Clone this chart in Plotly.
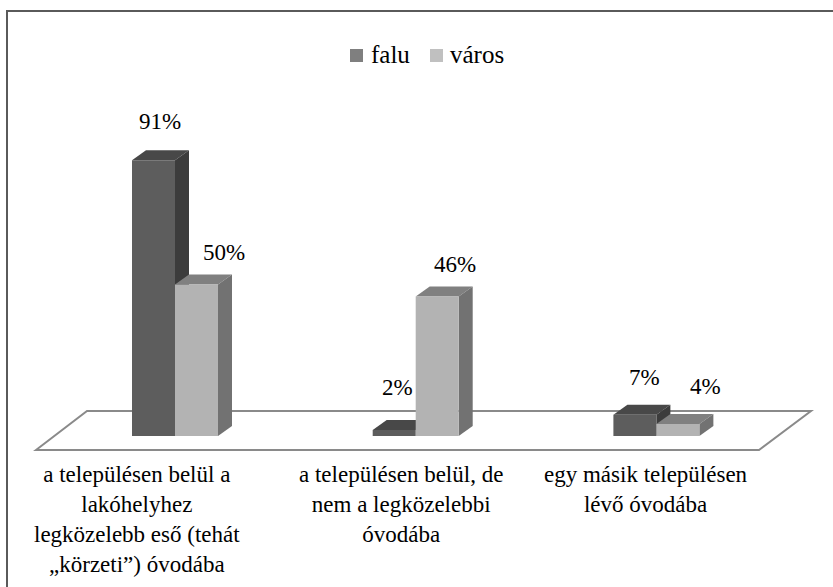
import plotly.graph_objects as go

# ---------------- data ----------------
categories = [
    "a településen belül a<br>lakóhelyhez<br>legközelebb eső (tehát<br>„körzeti”) óvodába",
    "a településen belül, de<br>nem a legközelebbi<br>óvodába",
    "egy másik településen<br>lévő óvodába",
]
series_names = ["falu", "város"]
falu = [91, 2, 7]
varos = [50, 46, 4]

# ---------------- styling / layout ----------------
W, H = 833, 587
X0PX, XSTEP = 175.0, 240.7      # pixel of category 0 centre, pixels per category
Y0PX, YSCALE = 436.0, 3.03      # pixel of 0 %, pixels per %
BAR_W = 43 / XSTEP
DX = 14 / XSTEP                 # 3-D depth (x)
DY = 10 / YSCALE                # 3-D depth (y)

front_colors = ["#5d5d5d", "#b3b3b3"]
top_colors = ["#484848", "#808080"]
side_colors = ["#3c3c3c", "#727272"]
legend_colors = ["#7f7f7f", "#c0c0c0"]

label_xshift = [[-1, 20], [-4, 11], [3, 21]]
label_yshift = [[29, 22], [32, 22], [27, 27]]
cat_label_dx = [-0.158, -0.06, -0.045]

FONT = "Liberation Serif"

idx = list(range(len(categories)))
series = [falu, varos]

fig = go.Figure()
shapes = []
annotations = []

# floor (perspective plane)
fx_top = [(87 - X0PX) / XSTEP, (811 - X0PX) / XSTEP]
fx_bot = [(36 - X0PX) / XSTEP, (759 - X0PX) / XSTEP]
fy_top = (Y0PX - 411) / YSCALE
fy_bot = (Y0PX - 450) / YSCALE
shapes.append(dict(
    type="path", xref="x", yref="y", layer="below",
    path=f"M {fx_bot[0]},{fy_bot} L {fx_top[0]},{fy_top} L {fx_top[1]},{fy_top} L {fx_bot[1]},{fy_bot} Z",
    fillcolor="white", line=dict(color="#8a8a8a", width=2),
))

# front faces as bars, top & side faces as shapes below them
for s, vals in enumerate(series):
    fig.add_trace(go.Bar(
        x=idx, y=vals, width=BAR_W, offset=(s - 1) * BAR_W,
        marker=dict(color=front_colors[s], line=dict(width=0)),
        name=series_names[s], showlegend=False, hoverinfo="skip",
    ))

for i in idx:
    for s, vals in enumerate(series):
        v = vals[i]
        x0 = i + (s - 1) * BAR_W
        x1 = x0 + BAR_W
        shapes.append(dict(
            type="path", xref="x", yref="y", layer="below",
            path=f"M {x0},{v} L {x1},{v} L {x1+DX},{v+DY} L {x0+DX},{v+DY} Z",
            fillcolor=top_colors[s], line=dict(width=0),
        ))
        shapes.append(dict(
            type="path", xref="x", yref="y", layer="below",
            path=f"M {x1},0 L {x1},{v} L {x1+DX},{v+DY} L {x1+DX},{DY} Z",
            fillcolor=side_colors[s], line=dict(width=0),
        ))
        annotations.append(dict(
            x=x0 + BAR_W / 2 + DX / 2, y=v + DY, xref="x", yref="y",
            text=f"{v}%", showarrow=False, yanchor="middle", xanchor="center",
            xshift=label_xshift[i][s], yshift=label_yshift[i][s],
            font=dict(family=FONT, size=23, color="black"),
        ))

# category labels
for i, cat in enumerate(categories):
    annotations.append(dict(
        x=i + cat_label_dx[i], y=(Y0PX - 460) / YSCALE, xref="x", yref="y",
        text=cat, showarrow=False, xanchor="center", yanchor="top", align="center",
        font=dict(family=FONT, size=23, color="black"),
    ))

# legend (manual)
def px(x):
    return x / W

def py(y):
    return 1 - y / H

legend_sw = [350, 430]
legend_tx = [369, 448]
for s in range(2):
    shapes.append(dict(
        type="rect", xref="paper", yref="paper",
        x0=px(legend_sw[s]), x1=px(legend_sw[s] + 13), y0=py(62), y1=py(49),
        fillcolor=legend_colors[s], line=dict(width=0),
    ))
    annotations.append(dict(
        x=px(legend_tx[s]), y=py(55), xref="paper", yref="paper",
        text=series_names[s], showarrow=False, xanchor="left", yanchor="middle",
        font=dict(family=FONT, size=25, color="black"),
    ))

# outer border
shapes.append(dict(
    type="rect", xref="paper", yref="paper",
    x0=px(7), y0=-0.05, x1=1.05, y1=py(11),
    line=dict(color="#5a5a5a", width=2), fillcolor="rgba(0,0,0,0)",
))

fig.update_layout(
    width=W, height=H,
    margin=dict(l=0, r=0, t=0, b=0),
    paper_bgcolor="white", plot_bgcolor="white",
    font=dict(family=FONT),
    barmode="overlay",
    showlegend=False,
    xaxis=dict(visible=False, range=[(0 - X0PX) / XSTEP, (W - X0PX) / XSTEP], fixedrange=True),
    yaxis=dict(visible=False, range=[(Y0PX - H) / YSCALE, Y0PX / YSCALE], fixedrange=True),
    shapes=shapes,
    annotations=annotations,
)

fig.write_html("out.html", post_script="document.body.style.margin='0';",
               config={"displayModeBar": False})
